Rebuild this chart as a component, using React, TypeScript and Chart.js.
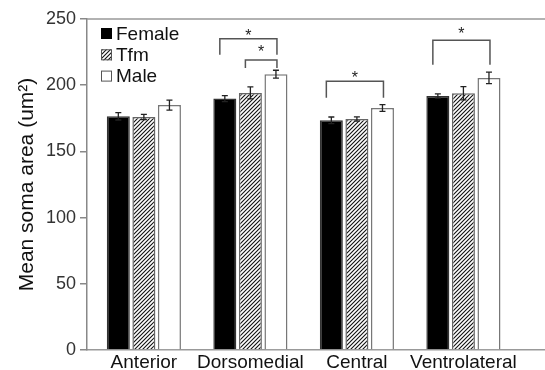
import React, { useEffect, useRef } from 'react';
import { Chart, registerables } from 'chart.js';

Chart.register(...registerables);

const categories = ['Anterior', 'Dorsomedial', 'Central', 'Ventrolateral'];
const seriesNames = ['Female', 'Tfm', 'Male'];
const femaleValues = [176.5, 189.9, 173.5, 191.9];
const tfmValues = [176, 194.2, 174.5, 193.9];
const maleValues = [185, 208.3, 182.8, 205.5];
const femaleErrors = [2.8, 2.3, 2.5, 1.6];
const tfmErrors = [2, 4.6, 1.6, 5];
const maleErrors = [3.8, 3, 2.6, 4.3];
const yTickValues = [0, 50, 100, 150, 200, 250];

// significance brackets: category, from series, to series, bracket top value, leg bottom value, star value
const sigCategory = [1, 1, 2, 3];
const sigFrom = [0, 1, 0, 0];
const sigTo = [2, 2, 2, 2];
const sigTop = [235, 219, 203, 234];
const sigLegBottom = [223, 213, 190.5, 215.5];
const sigStar = [240, 228, 208, 241.5];
const sigLabel = ['*', '*', '*', '*'];

const FONT = '"Liberation Sans", Arial, sans-serif';

function makeHatch(): CanvasPattern | string {
  const c = document.createElement('canvas');
  c.width = 4;
  c.height = 4;
  const g = c.getContext('2d');
  if (!g) return '#777';
  g.fillStyle = '#ffffff';
  g.fillRect(0, 0, 4, 4);
  g.strokeStyle = '#111';
  g.lineWidth = 1.1;
  g.beginPath();
  g.moveTo(-1, 5);
  g.lineTo(5, -1);
  g.moveTo(-3, 3);
  g.lineTo(3, -3);
  g.moveTo(1, 7);
  g.lineTo(7, 1);
  g.stroke();
  const p = g.createPattern(c, 'repeat');
  return p || '#777';
}

export default function App() {
  const ref = useRef<HTMLCanvasElement | null>(null);

  useEffect(() => {
    const canvas = ref.current;
    if (!canvas) return;
    const hatch = makeHatch();
    const values = [femaleValues, tfmValues, maleValues];
    const errors = [femaleErrors, tfmErrors, maleErrors];
    const fills: any[] = ['#000000', hatch, '#ffffff'];
    const borders = ['#333333', '#666666', '#777777'];

    const overlay = {
      id: 'overlay',
      afterDatasetsDraw(chart: any) {
        const ctx = chart.ctx;
        const y = chart.scales.y;
        const area = chart.chartArea;
        ctx.save();
        // top frame line
        ctx.strokeStyle = '#999999';
        ctx.lineWidth = 1.5;
        ctx.beginPath();
        ctx.moveTo(area.left, area.top);
        ctx.lineTo(area.right, area.top);
        ctx.stroke();
        // error bars
        ctx.strokeStyle = '#222';
        ctx.lineWidth = 1.3;
        values.forEach((vals, di) => {
          const meta = chart.getDatasetMeta(di);
          vals.forEach((v, i) => {
            const el = meta.data[i];
            if (!el) return;
            const x = el.x;
            const yTop = y.getPixelForValue(v + errors[di][i]);
            const yBot = y.getPixelForValue(v - errors[di][i]);
            ctx.beginPath();
            ctx.moveTo(x, yTop);
            ctx.lineTo(x, yBot);
            ctx.moveTo(x - 3, yTop);
            ctx.lineTo(x + 3, yTop);
            ctx.moveTo(x - 3, yBot);
            ctx.lineTo(x + 3, yBot);
            ctx.stroke();
          });
        });
        // significance brackets
        ctx.strokeStyle = '#555';
        ctx.lineWidth = 1.5;
        ctx.fillStyle = '#222';
        ctx.font = `16px ${FONT}`;
        ctx.textAlign = 'center';
        ctx.textBaseline = 'middle';
        sigCategory.forEach((cat, k) => {
          const a = chart.getDatasetMeta(sigFrom[k]).data[cat];
          const b = chart.getDatasetMeta(sigTo[k]).data[cat];
          if (!a || !b) return;
          const x1 = a.x - 5;
          const x2 = b.x + 1;
          const yt = y.getPixelForValue(sigTop[k]);
          const yb = y.getPixelForValue(sigLegBottom[k]);
          ctx.beginPath();
          ctx.moveTo(x1, yb);
          ctx.lineTo(x1, yt);
          ctx.lineTo(x2, yt);
          ctx.lineTo(x2, yb);
          ctx.stroke();
          ctx.fillText(sigLabel[k], (x1 + x2) / 2, y.getPixelForValue(sigStar[k]) + 4);
        });
        // legend
        ctx.font = `19px ${FONT}`;
        ctx.textAlign = 'left';
        ctx.textBaseline = 'middle';
        seriesNames.forEach((name, i) => {
          const cy = 33.5 + i * 21.3;
          ctx.fillStyle = fills[i];
          ctx.fillRect(101, cy - 5.5, 11, 11);
          ctx.strokeStyle = i === 0 ? '#000' : '#555';
          ctx.lineWidth = 1;
          ctx.strokeRect(101.5, cy - 5, 10, 10);
          ctx.fillStyle = '#111';
          ctx.fillText(name, 116, cy + 1);
        });
        ctx.restore();
      },
    };

    const chart = new Chart(canvas, {
      type: 'bar',
      data: {
        datasets: seriesNames.map((name, di) => ({
          label: name,
          data: values[di].map((v, i) => ({ x: i, y: v })),
          backgroundColor: fills[di],
          borderColor: borders[di],
          borderWidth: 1.5,
          categoryPercentage: 0.72,
          barPercentage: 0.9,
        })),
      },
      options: {
        responsive: false,
        animation: false,
        devicePixelRatio: 1,
        layout: { padding: { top: 19, right: 0, left: 0, bottom: 0 } },
        plugins: { legend: { display: false }, tooltip: { enabled: false } },
        scales: {
          x: {
            type: 'linear',
            offset: false,
            min: -0.534,
            max: 3.766,
            afterBuildTicks: (scale: any) => {
              scale.ticks = categories.map((_, i) => ({ value: i }));
            },
            afterFit: (scale: any) => {
              scale.height = 20;
            },
            grid: { display: false, offset: false, drawTicks: false },
            border: { display: true, color: '#999', width: 1.5 },
            ticks: {
              autoSkip: false,
              maxRotation: 0,
              padding: 1,
              color: '#111',
              font: { family: FONT, size: 19 },
              callback: (v: any) => categories[v as number] ?? '',
            },
          },
          y: {
            min: 0,
            max: 250,
            afterBuildTicks: (scale: any) => {
              scale.ticks = yTickValues.map((v) => ({ value: v }));
            },
            afterFit: (scale: any) => {
              scale.width = 87;
            },
            grid: {
              display: true,
              drawOnChartArea: false,
              drawTicks: true,
              tickLength: 7,
              color: '#888',
              lineWidth: 1.5,
            },
            border: { display: true, color: '#888', width: 1.5 },
            ticks: {
              padding: 4,
              color: '#333',
              font: { family: FONT, size: 18 },
            },
            title: {
              display: true,
              text: 'Mean soma area (um²)',
              color: '#111',
              font: { family: FONT, size: 21 },
              padding: { top: 15, bottom: 0 },
            },
          },
        },
      },
      plugins: [overlay],
    });
    return () => chart.destroy();
  }, []);

  return (
    <div style={{ position: 'fixed', left: 0, top: 0, width: 545, height: 370, background: '#fff' }}>
      <canvas ref={ref} width={545} height={370} />
    </div>
  );
}
